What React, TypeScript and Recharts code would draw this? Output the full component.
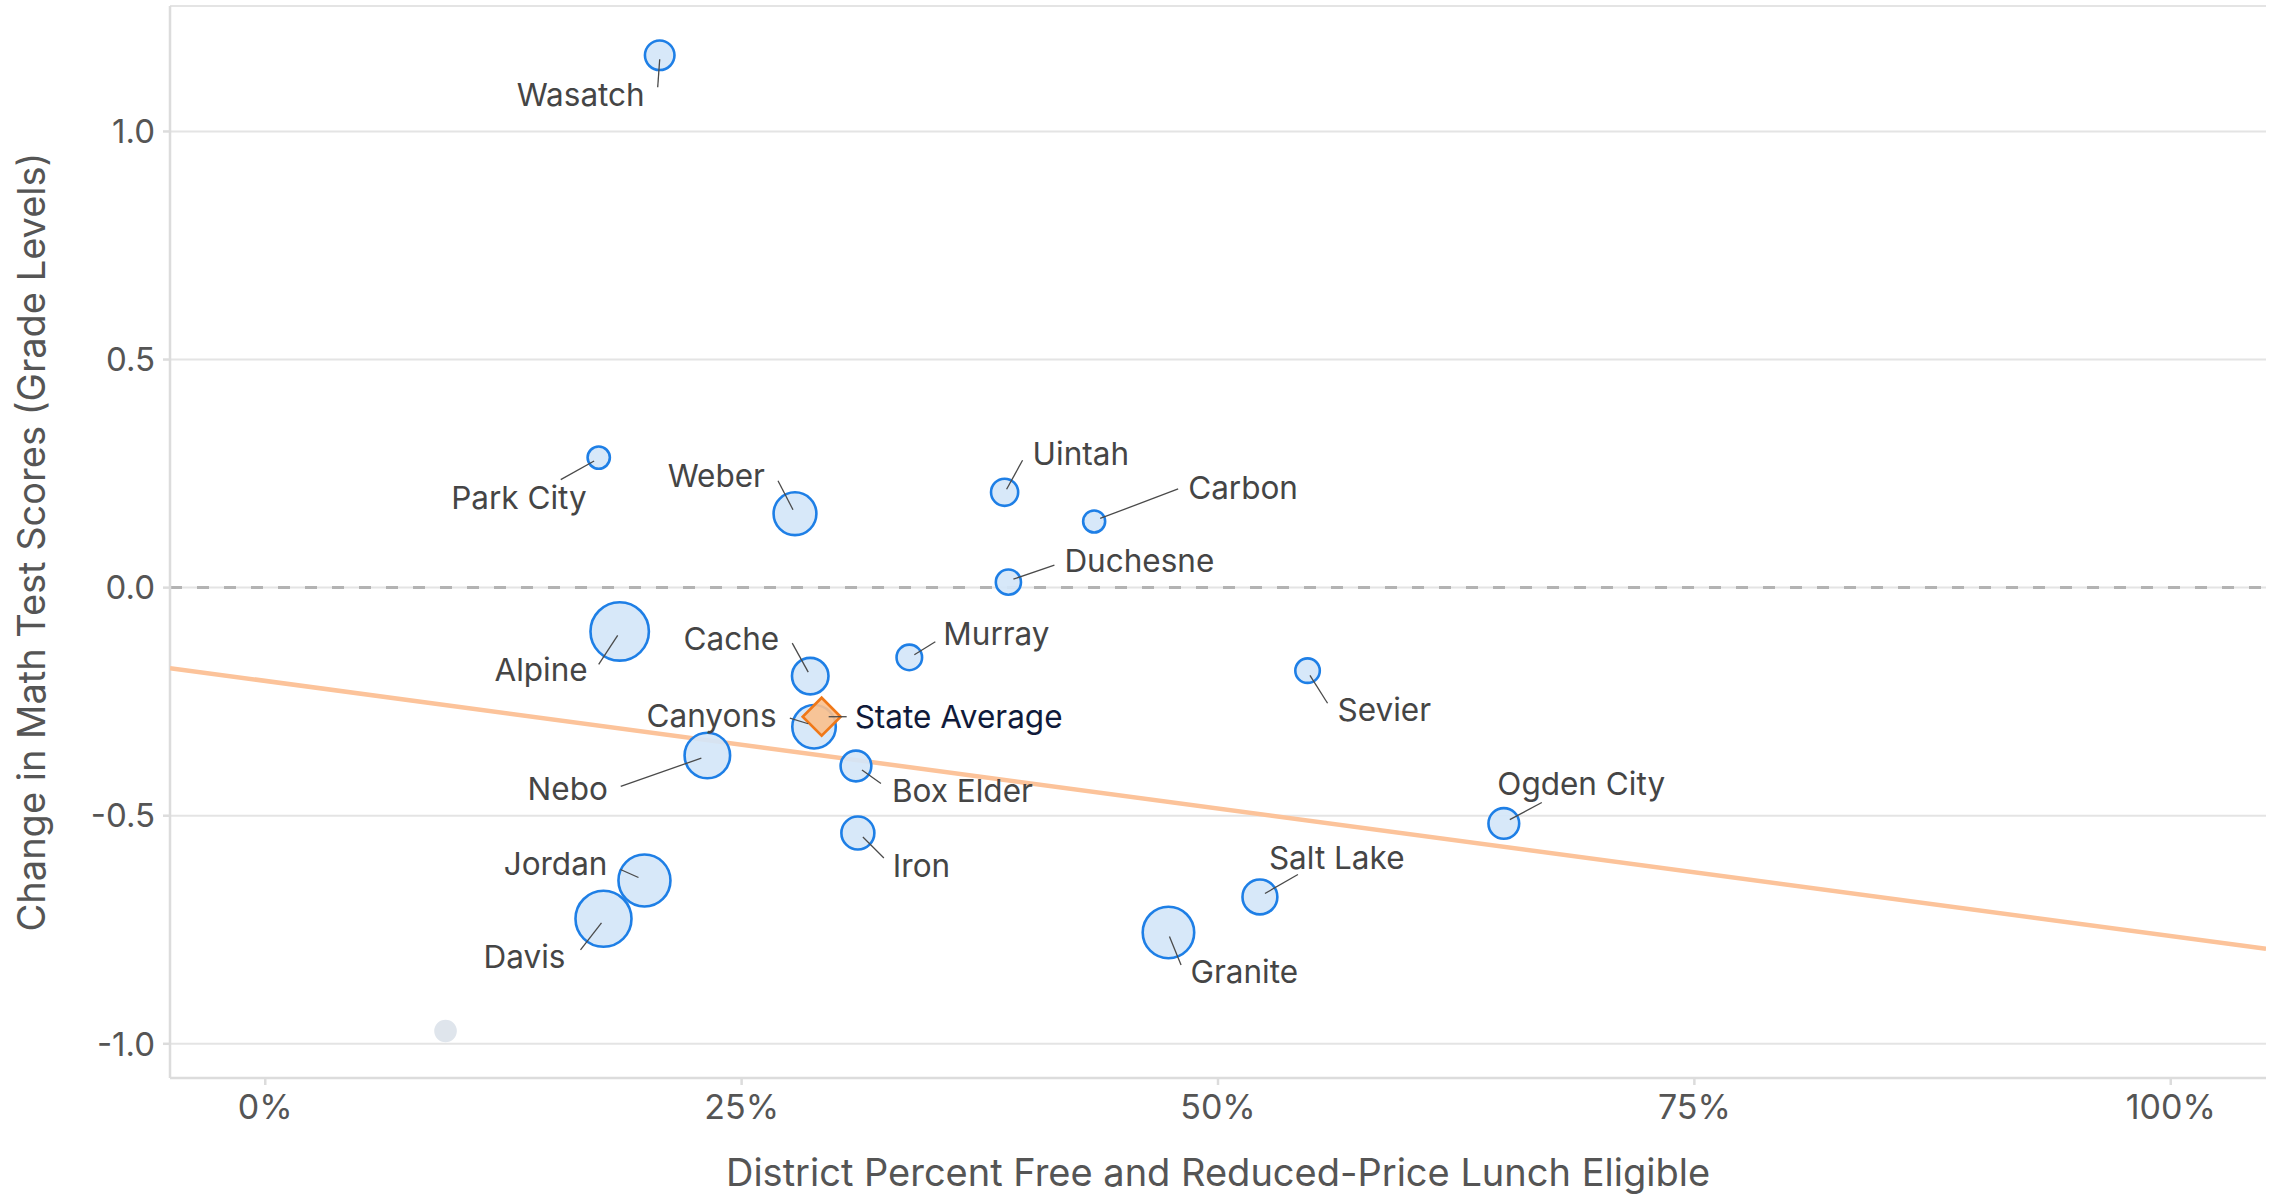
import React from 'react';
import {
  ScatterChart,
  Scatter,
  XAxis,
  YAxis,
  ZAxis,
  CartesianGrid,
  ReferenceLine,
  LabelList,
  Label,
} from 'recharts';

// ---- data ----
const districts = [
  'Wasatch', 'Park City', 'Weber', 'Uintah', 'Carbon', 'Duchesne', 'Alpine', 'Cache',
  'Murray', 'Sevier', 'Canyons', 'Nebo', 'Box Elder', 'Iron', 'Ogden City', 'Jordan',
  'Salt Lake', 'Davis', 'Granite',
];
// percent free & reduced-price lunch eligible
const frlPercent = [
  20.7, 17.5, 27.8, 38.8, 43.5, 39.0, 18.6, 28.6,
  33.8, 54.7, 28.8, 23.2, 31.0, 31.1, 65.0, 19.9,
  52.2, 17.75, 47.4,
];
// change in math test scores (grade levels)
const mathChange = [
  1.167, 0.285, 0.162, 0.209, 0.145, 0.012, -0.096, -0.194,
  -0.153, -0.182, -0.305, -0.368, -0.391, -0.538, -0.517, -0.642,
  -0.678, -0.726, -0.756,
];
// relative bubble size (district size)
const bubbleSize = [
  218, 124, 458, 184, 121, 158, 853, 333,
  163, 150, 473, 518, 236, 272, 236, 676,
  304, 784, 663,
];

// unlabeled small district
const otherX = [9.46];
const otherY = [-0.972];
const otherSize = [128];

// state average
const stateAvgLabel = 'State Average';
const stateAvgX = [29.2];
const stateAvgY = [-0.283];

// fitted trend line
const trendIntercept = -0.2045; // at 0%
const trendSlope = -0.005595; // per percentage point

const xDomain: [number, number] = [-5, 105];
const yDomain: [number, number] = [-1.075, 1.275];
const xTicks = [0, 25, 50, 75, 100];
const yTicks = [-1, -0.5, 0, 0.5, 1];

const xTitle = 'District Percent Free and Reduced-Price Lunch Eligible';
const yTitle = 'Change in Math Test Scores (Grade Levels)';

// ---- derived tables ----
const districtData = districts.map((name, i) => ({
  name,
  x: frlPercent[i],
  y: mathChange[i],
  z: bubbleSize[i],
}));
const otherData = otherX.map((x, i) => ({ x, y: otherY[i], z: otherSize[i] }));
const stateData = stateAvgX.map((x, i) => ({ name: stateAvgLabel, x, y: stateAvgY[i], z: 100 }));
const trendData = xDomain.map((x) => ({ x, y: trendIntercept + trendSlope * x, z: 1 }));

// ---- label placement (style only) ----
type Place = { tx: number; ty: number; anchor: 'start' | 'end'; l: [number, number, number, number] };
const labelPlacement: Record<string, Place> = {
  Wasatch: { tx: -15, ty: 51, anchor: 'end', l: [0, 4, -2, 32] },
  'Park City': { tx: -12, ty: 51, anchor: 'end', l: [-4.6, 3.4, -38, 22] },
  Weber: { tx: -30, ty: -27, anchor: 'end', l: [-2, -4, -17, -33] },
  Uintah: { tx: 28, ty: -27, anchor: 'start', l: [2, -3, 18, -32] },
  Carbon: { tx: 94, ty: -22, anchor: 'start', l: [6, -3, 84, -32.5] },
  Duchesne: { tx: 56, ty: -10, anchor: 'start', l: [5, -3, 46, -17] },
  Alpine: { tx: -32, ty: 50, anchor: 'end', l: [-2, 4, -21, 33] },
  Cache: { tx: -31, ty: -26, anchor: 'end', l: [-2, -4, -18, -33] },
  Murray: { tx: 34, ty: -12, anchor: 'start', l: [5, -2.6, 26, -15.6] },
  Sevier: { tx: 30, ty: 50.6, anchor: 'start', l: [2.4, 4.7, 20, 32.6] },
  Canyons: { tx: -37.5, ty: 0.5, anchor: 'end', l: [-5.8, -3, -24.2, -8.6] },
  Nebo: { tx: -99.5, ty: 44.6, anchor: 'end', l: [-6, 2.6, -86.6, 31] },
  'Box Elder': { tx: 36, ty: 36, anchor: 'start', l: [6, 4, 25, 17.6] },
  Iron: { tx: 35, ty: 44, anchor: 'start', l: [5, 4, 26, 25] },
  'Ogden City': { tx: -6.5, ty: -28, anchor: 'start', l: [6, -3.8, 38, -21] },
  Jordan: { tx: -37, ty: -5.4, anchor: 'end', l: [-6, -3, -24, -11] },
  'Salt Lake': { tx: 9, ty: -28, anchor: 'start', l: [5, -3.4, 38, -22.4] },
  Davis: { tx: -38, ty: 49.5, anchor: 'end', l: [-2, 4, -23, 31] },
  Granite: { tx: 22, ty: 50.5, anchor: 'start', l: [1, 4, 12.6, 32.6] },
  'State Average': { tx: 33, ty: 11, anchor: 'start', l: [7, 0, 25, 0] },
};

const FONT = 'Inter, "Noto Sans", sans-serif';
const LABEL_SIZE = 31.5;

const makeLabel = (color: string) => (props: any) => {
  const { x, y, width, height, value } = props;
  const p = labelPlacement[value as string];
  if (!p) return null;
  const cx = Number(x) + Number(width) / 2;
  const cy = Number(y) + Number(height) / 2;
  return (
    <g>
      <line
        x1={cx + p.l[0]}
        y1={cy + p.l[1]}
        x2={cx + p.l[2]}
        y2={cy + p.l[3]}
        stroke="#4a4a4a"
        strokeWidth={1.3}
      />
      <text
        x={cx + p.tx}
        y={cy + p.ty}
        textAnchor={p.anchor}
        fontFamily={FONT}
        fontSize={LABEL_SIZE}
        fill={color}
      >
        {value}
      </text>
    </g>
  );
};

const Diamond = (props: any) => {
  const { cx, cy } = props;
  const h = 19;
  return (
    <path
      d={`M${cx},${cy - h} L${cx + h},${cy} L${cx},${cy + h} L${cx - h},${cy} Z`}
      fill="#fbc08c"
      fillOpacity={0.9}
      stroke="#f07818"
      strokeWidth={2.6}
    />
  );
};

const Empty = () => <g />;

export default function App() {
  return (
    <div style={{ position: 'absolute', left: 0, top: 0, width: 2276, height: 1197, background: '#fff' }}>
      <ScatterChart
        width={2276}
        height={1197}
        margin={{ top: 6, right: 10, bottom: 0, left: 0 }}
      >
        <CartesianGrid vertical={false} stroke="#e4e4e4" strokeWidth={2} />
        <XAxis
          type="number"
          dataKey="x"
          domain={xDomain}
          ticks={xTicks}
          allowDataOverflow
          height={119}
          tickFormatter={(v: number) => `${v}%`}
          tick={{ fill: '#555', fontSize: 34, fontFamily: FONT }}
          tickSize={7}
          tickMargin={10}
          axisLine={{ stroke: '#dcdcdc', strokeWidth: 2.5 }}
          tickLine={{ stroke: '#dcdcdc', strokeWidth: 2.5 }}
        >
          <Label
            content={(p: any) => {
              const vb = p.viewBox || {};
              return (
                <text
                  x={vb.x + vb.width / 2}
                  y={1186}
                  textAnchor="middle"
                  fontFamily={FONT}
                  fontSize={38}
                  fill="#555"
                >
                  {xTitle}
                </text>
              );
            }}
          />
        </XAxis>
        <YAxis
          type="number"
          dataKey="y"
          domain={yDomain}
          ticks={yTicks}
          allowDataOverflow
          width={170}
          tickFormatter={(v: number) => v.toFixed(1)}
          tick={{ fill: '#555', fontSize: 33, fontFamily: FONT }}
          tickSize={7}
          tickMargin={8}
          axisLine={{ stroke: '#dcdcdc', strokeWidth: 2.5 }}
          tickLine={{ stroke: '#dcdcdc', strokeWidth: 2.5 }}
        >
          <Label
            content={(p: any) => {
              const vb = p.viewBox || {};
              const cy = vb.y + vb.height / 2;
              return (
                <text
                  x={45}
                  y={cy}
                  transform={`rotate(-90, 45, ${cy})`}
                  textAnchor="middle"
                  fontFamily={FONT}
                  fontSize={38}
                  fill="#555"
                >
                  {yTitle}
                </text>
              );
            }}
          />
        </YAxis>
        <ZAxis type="number" dataKey="z" domain={[0, 1000]} range={[0, 1000 * Math.PI]} />
        <ReferenceLine y={0} stroke="#b3b3b3" strokeWidth={3} strokeDasharray="12 15" />
        <Scatter
          data={trendData}
          line={{ stroke: '#fcc39a', strokeWidth: 4.5 }}
          lineType="joint"
          shape={<Empty />}
          isAnimationActive={false}
        />
        <Scatter data={otherData} fill="#dfe5ec" isAnimationActive={false} />
        <Scatter
          data={districtData}
          fill="#d4e6f9"
          fillOpacity={0.92}
          stroke="#1e7fe6"
          strokeWidth={2.6}
          isAnimationActive={false}
        >
          <LabelList dataKey="name" content={makeLabel('#454545')} />
        </Scatter>
        <Scatter data={stateData} shape={<Diamond />} isAnimationActive={false}>
          <LabelList dataKey="name" content={makeLabel('#101a3a')} />
        </Scatter>
      </ScatterChart>
    </div>
  );
}
